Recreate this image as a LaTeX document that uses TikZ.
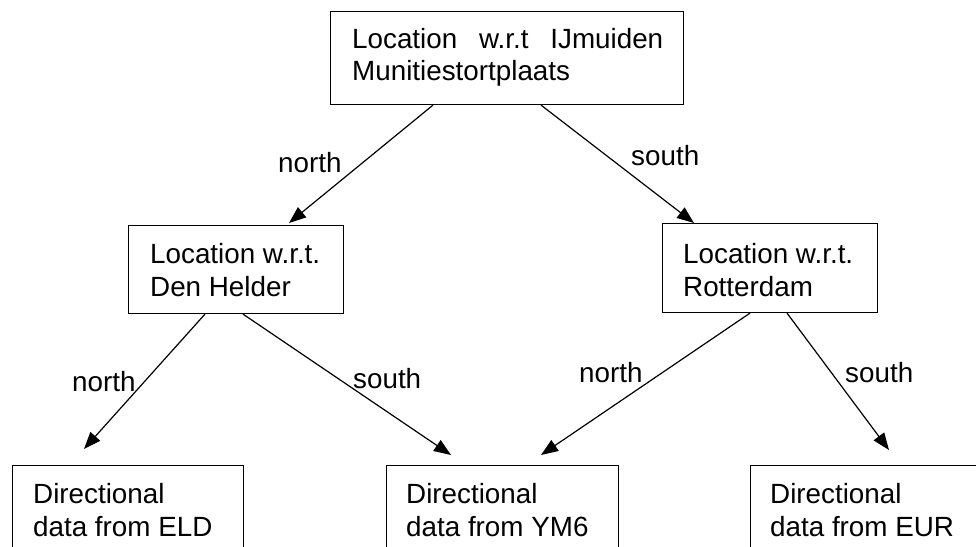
\documentclass[tikz,border=0pt]{standalone}
\usepackage{fontspec}
\setmainfont{Liberation Sans}
\usetikzlibrary{arrows.meta,calc}
\tikzset{
  box/.style={draw, line width=1.1pt, anchor=north west, inner sep=0pt},
  txt/.style={anchor=base west, inner sep=0pt, font=\fontsize{27.8}{32}\selectfont},
  lbl/.style={anchor=base west, inner sep=0pt, font=\fontsize{27.8}{32}\selectfont},
  conn/.style={line width=1.2pt, -{Triangle[length=17pt,width=13pt]}}
}
\begin{document}
\begin{tikzpicture}[x=1pt,y=-1pt]
\useasboundingbox (0,0) rectangle (976,546);
\clip (0,0) rectangle (976,546);
\fill[white] (0,0) rectangle (976,546);
% boxes
\node[box, minimum width=353pt, minimum height=93pt] (top) at (330,11) {};
\node[box, minimum width=215pt, minimum height=88pt] (dh) at (128,225) {};
\node[box, minimum width=215pt, minimum height=89pt] (rt) at (662,223) {};
\node[box, minimum width=231pt, minimum height=120pt] (eld) at (12,465) {};
\node[box, minimum width=232pt, minimum height=120pt] (ym) at (386,465) {};
\node[box, minimum width=260pt, minimum height=120pt] (eur) at (750,465) {};
% texts
\node[txt, text width=311pt, align=left] (topt1) at (352,48) {Location\hfill w.r.t\hfill IJmuiden};
\node[txt] (topt2) at (352,80) {Munitiestortplaats};
\node[txt] (dht1) at (150,263) {Location w.r.t.};
\node[txt] (dht2) at (150,296) {Den Helder};
\node[txt] (rtt1) at (683,263) {Location w.r.t.};
\node[txt] (rtt2) at (683,296) {Rotterdam};
\node[txt] (eldt1) at (33,503) {Directional};
\node[txt] (eldt2) at (33,536) {data from ELD};
\node[txt] (ymt1) at (406,503) {Directional};
\node[txt] (ymt2) at (406,536) {data from YM6};
\node[txt] (eurt1) at (770,503) {Directional};
\node[txt] (eurt2) at (770,536) {data from EUR};
% arrow tips
\coordinate (tipdh) at (289,223);
\coordinate (tiprt) at (694,223);
\coordinate (tipeld) at (84,449);
\coordinate (tipym1) at (451,455);
\coordinate (tipym2) at (541,455);
\coordinate (tipeur) at (889,450);
% connectors
\draw[conn] ($(top.south west)+(103,0)$) -- (tipdh);
\draw[conn] ($(top.south west)+(211,0)$) -- (tiprt);
\draw[conn] ($(dh.south west)+(77,0)$) -- (tipeld);
\draw[conn] ($(dh.south west)+(115,0)$) -- (tipym1);
\draw[conn] ($(rt.south west)+(88,0)$) -- (tipym2);
\draw[conn] ($(rt.south west)+(125,0)$) -- (tipeur);
% labels
\node[lbl] (l1) at (278,172) {north};
\node[lbl] (l2) at (631,165) {south};
\node[lbl] (l3) at (72,391) {north};
\node[lbl] (l4) at (353,388) {south};
\node[lbl] (l5) at (579,382) {north};
\node[lbl] (l6) at (845,382) {south};
\end{tikzpicture}
\end{document}
